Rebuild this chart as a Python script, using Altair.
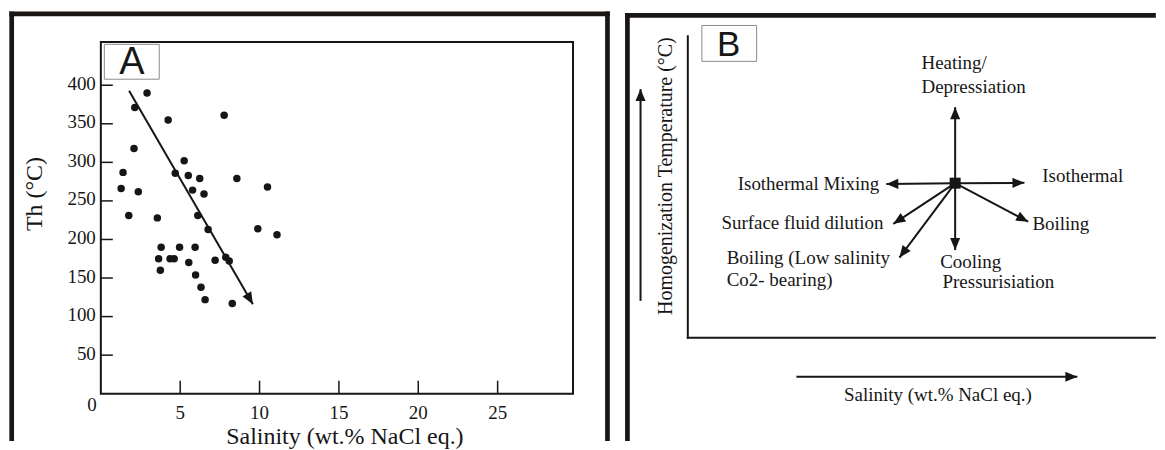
import math
import altair as alt
import pandas as pd

# ---------------- Panel A data ----------------
salinity = [2.91, 2.14, 4.24, 7.77, 2.09, 1.40, 1.28, 2.36, 1.76, 5.25, 4.69, 5.51,
            6.23, 8.57, 5.78, 6.50, 10.5, 3.56, 6.11, 6.76, 9.89, 11.1, 3.80, 4.96,
            5.94, 3.64, 4.36, 4.62, 5.54, 7.20, 7.87, 8.09, 3.75, 5.97, 6.31, 6.57, 8.28]
th = [390, 371, 355, 361, 318, 287, 266, 262, 231, 302, 286, 283,
      279, 279, 264, 259, 268, 228, 231, 213, 214, 206, 190, 190,
      190, 175, 175, 175, 170, 173, 177, 172, 160, 154, 138, 122, 117]
a_x_ticks = [5, 10, 15, 20, 25]
a_y_ticks = [50, 100, 150, 200, 250, 300, 350, 400]
a_trend_x = [1.78, 9.58]
a_trend_y = [393, 116]
a_x_domain = [0, 29.75]
a_y_domain = [0, 463.4]
a_frame_top = 456
a_box_x = [0.22, 3.68]
a_box_y = [407.8, 453]
a_box_label = ("A", 1.95, 430)
a_x_title = "Salinity (wt.% NaCl eq.)"
a_y_title = "Th (°C)"

# ---------------- Panel B data ----------------
b_center = (57.1, 51.3)
b_tip_u = [57.1, 57.1, 42.4, 71.9, 72.7, 43.9, 45.2]
b_tip_v = [76.5, 29.1, 51.0, 51.4, 38.5, 37.8, 26.6]
b_axis_u0 = [-10.1, 23.2]
b_axis_v0 = [12.25, -12.9]
b_axis_u1 = [-10.1, 83.2]
b_axis_v1 = [82.5, -12.9]
b_labels = ["Heating/", "Depressiation", "Isothermal Mixing", "Isothermal",
            "Surface fluid dilution", "Boiling", "Boiling (Low salinity",
            "Co2- bearing)", "Cooling", "Pressurisiation"]
b_label_u = [49.9, 49.9, 40.9, 75.7, 41.8, 73.6, 8.3, 8.3, 53.9, 54.4]
b_label_v = [91.1, 83.1, 51.0, 53.6, 38.1, 37.7, 26.5, 19.2, 25.3, 18.6]
b_label_align = ["left", "left", "right", "left", "right", "left", "left", "left", "left", "left"]
b_box_u = [3.0, 14.7]
b_box_v = [91.7, 103.6]
b_box_label = ("B", 8.7, 97.4)
b_domain = [0, 100]
b_x_title = "Salinity (wt.% NaCl eq.)"
b_y_title = "Homogenization Temperature (°C)"

# ---------------- styling ----------------
AW, AH = 473, 358
BW, BH = 469, 302
serif = "Liberation Serif"
sans = "Liberation Sans"
ink = "#161616"
frame_ink = "#1a1614"
FW = 4.7
ARROW = "M0,0L-0.42,1L0.42,1Z"
ARROW_SIZE = 576

one = pd.DataFrame({"k": [0]})


def heads(x0, y0, x1, y1, kx, ky):
    rows = []
    for a, b, c, d in zip(x0, y0, x1, y1):
        ang = (math.degrees(math.atan2((c - a) * kx, (d - b) * ky)) + 360) % 360
        rows.append({"x": c, "y": d, "ang": ang})
    return pd.DataFrame(rows)


def vrule(x, y0, y1, w=FW, color=frame_ink, cap="square"):
    return alt.Chart(one).mark_rule(color=color, strokeWidth=w, strokeCap=cap).encode(
        x=alt.value(x), y=alt.value(y0), y2=alt.value(y1))


def hrule(y, x0, x1, w=FW, color=frame_ink, cap="square"):
    return alt.Chart(one).mark_rule(color=color, strokeWidth=w, strokeCap=cap).encode(
        y=alt.value(y), x=alt.value(x0), x2=alt.value(x1))


def title_text(txt, x, y, size, angle=0):
    return alt.Chart(pd.DataFrame({"t": [txt]})).mark_text(
        font=serif, fontSize=size, color=ink, align="center", baseline="middle",
        angle=angle).encode(x=alt.value(x), y=alt.value(y), text="t:N")


# ---------------- Panel A ----------------
xA = alt.Scale(domain=a_x_domain, nice=False, zero=False)
yA = alt.Scale(domain=a_y_domain, nice=False, zero=False)

frameA = alt.Chart(pd.DataFrame({"x0": [a_x_domain[0]], "x1": [a_x_domain[1]],
                                 "y0": [0], "y1": [a_frame_top]})).mark_rect(
    fillOpacity=0, stroke=ink, strokeWidth=2).encode(
    x=alt.X("x0:Q", scale=xA, axis=None), x2="x1:Q",
    y=alt.Y("y0:Q", scale=yA, axis=None), y2="y1:Q")

xticksA = alt.Chart(pd.DataFrame({"v": a_x_ticks})).mark_rule(color=ink, strokeWidth=1.5).encode(
    x=alt.X("v:Q", scale=xA, axis=None), y=alt.value(AH), y2=alt.value(AH - 13))
yticksA = alt.Chart(pd.DataFrame({"v": a_y_ticks})).mark_rule(color=ink, strokeWidth=1.5).encode(
    y=alt.Y("v:Q", scale=yA, axis=None), x=alt.value(0), x2=alt.value(12))

xlabA = alt.Chart(pd.DataFrame({"v": a_x_ticks})).mark_text(
    font=serif, fontSize=19, color=ink, align="center", baseline="middle").encode(
    x=alt.X("v:Q", scale=xA, axis=None), y=alt.value(AH + 19), text="v:Q")
ylabA = alt.Chart(pd.DataFrame({"v": a_y_ticks})).mark_text(
    font=serif, fontSize=19, color=ink, align="right", baseline="middle", dy=-1.5).encode(
    y=alt.Y("v:Q", scale=yA, axis=None), x=alt.value(-5), text="v:Q")

ptsA = alt.Chart(pd.DataFrame({"s": salinity, "t": th})).mark_circle(
    size=56, color=ink, opacity=1).encode(
    x=alt.X("s:Q", scale=xA, axis=None), y=alt.Y("t:Q", scale=yA, axis=None))

trendA = alt.Chart(pd.DataFrame({"x0": [a_trend_x[0]], "y0": [a_trend_y[0]],
                                 "x1": [a_trend_x[1]], "y1": [a_trend_y[1]]})).mark_rule(
    color=ink, strokeWidth=2).encode(
    x=alt.X("x0:Q", scale=xA, axis=None), y=alt.Y("y0:Q", scale=yA, axis=None),
    x2="x1:Q", y2="y1:Q")
headA = alt.Chart(heads([a_trend_x[0]], [a_trend_y[0]], [a_trend_x[1]], [a_trend_y[1]],
                        AW / (a_x_domain[1] - a_x_domain[0]),
                        AH / (a_y_domain[1] - a_y_domain[0]))).mark_point(
    shape=ARROW, size=ARROW_SIZE, filled=True, color=ink, opacity=1, strokeWidth=0).encode(
    x=alt.X("x:Q", scale=xA, axis=None), y=alt.Y("y:Q", scale=yA, axis=None),
    angle=alt.Angle("ang:Q", scale=None))

zeroA = alt.Chart(pd.DataFrame({"x": [0], "y": [0], "t": ["0"]})).mark_text(
    font=serif, fontSize=19, color=ink, align="right", baseline="middle", dx=-4, dy=11).encode(
    x=alt.X("x:Q", scale=xA, axis=None), y=alt.Y("y:Q", scale=yA, axis=None), text="t:N")

boxA = alt.Chart(pd.DataFrame({"x0": [a_box_x[0]], "x1": [a_box_x[1]],
                               "y0": [a_box_y[0]], "y1": [a_box_y[1]]})).mark_rect(
    fillOpacity=0, stroke="#8c8c8c", strokeWidth=1).encode(
    x=alt.X("x0:Q", scale=xA, axis=None), x2="x1:Q",
    y=alt.Y("y0:Q", scale=yA, axis=None), y2="y1:Q")
letterA = alt.Chart(pd.DataFrame({"x": [a_box_label[1]], "y": [a_box_label[2]],
                                  "t": [a_box_label[0]]})).mark_text(
    font=sans, fontSize=38, color=ink, align="center", baseline="middle", dy=1).encode(
    x=alt.X("x:Q", scale=xA, axis=None), y=alt.Y("y:Q", scale=yA, axis=None), text="t:N")

panelA = alt.layer(
    frameA, xticksA, yticksA, xlabA, ylabA, ptsA, trendA, headA, zeroA, boxA, letterA,
    title_text(a_x_title, 244.5, 401, 24), title_text(a_y_title, -66, 158, 24, 270),
    vrule(-89.3, -22.5, 403), hrule(-22.5, -89.3, 507.5), vrule(507.5, -22.5, 403),
).properties(width=AW, height=AH)

# ---------------- Panel B ----------------
xB = alt.Scale(domain=b_domain, nice=False, zero=False)
yB = alt.Scale(domain=b_domain, nice=False, zero=False)

centerB = alt.Chart(pd.DataFrame({"u": [b_center[0]], "v": [b_center[1]]})).mark_square(
    size=121, color=ink, opacity=1).encode(
    x=alt.X("u:Q", scale=xB, axis=None), y=alt.Y("v:Q", scale=yB, axis=None))

u0 = [b_center[0]] * len(b_tip_u) + b_axis_u0
v0 = [b_center[1]] * len(b_tip_v) + b_axis_v0
u1 = b_tip_u + b_axis_u1
v1 = b_tip_v + b_axis_v1

shaftsB = alt.Chart(pd.DataFrame({"u0": u0, "v0": v0, "u1": u1, "v1": v1})).mark_rule(
    color=ink, strokeWidth=2).encode(
    x=alt.X("u0:Q", scale=xB, axis=None), y=alt.Y("v0:Q", scale=yB, axis=None),
    x2="u1:Q", y2="v1:Q")
headsB = alt.Chart(heads(u0, v0, u1, v1, BW / (b_domain[1] - b_domain[0]),
                         BH / (b_domain[1] - b_domain[0]))).mark_point(
    shape=ARROW, size=ARROW_SIZE, filled=True, color=ink, opacity=1, strokeWidth=0).encode(
    x=alt.X("x:Q", scale=xB, axis=None), y=alt.Y("y:Q", scale=yB, axis=None),
    angle=alt.Angle("ang:Q", scale=None))

lab_df = pd.DataFrame({"t": b_labels, "u": b_label_u, "v": b_label_v, "al": b_label_align})
textL = alt.Chart(lab_df[lab_df["al"] == "left"]).mark_text(
    font=serif, fontSize=19, color=ink, align="left", baseline="middle").encode(
    x=alt.X("u:Q", scale=xB, axis=None), y=alt.Y("v:Q", scale=yB, axis=None), text="t:N")
textR = alt.Chart(lab_df[lab_df["al"] == "right"]).mark_text(
    font=serif, fontSize=19, color=ink, align="right", baseline="middle").encode(
    x=alt.X("u:Q", scale=xB, axis=None), y=alt.Y("v:Q", scale=yB, axis=None), text="t:N")

boxB = alt.Chart(pd.DataFrame({"x0": [b_box_u[0]], "x1": [b_box_u[1]],
                               "y0": [b_box_v[0]], "y1": [b_box_v[1]]})).mark_rect(
    fillOpacity=0, stroke="#8c8c8c", strokeWidth=1).encode(
    x=alt.X("x0:Q", scale=xB, axis=None), x2="x1:Q",
    y=alt.Y("y0:Q", scale=yB, axis=None), y2="y1:Q")
letterB = alt.Chart(pd.DataFrame({"x": [b_box_label[1]], "y": [b_box_label[2]],
                                  "t": [b_box_label[0]]})).mark_text(
    font=sans, fontSize=35, color=ink, align="center", baseline="middle", dy=1).encode(
    x=alt.X("x:Q", scale=xB, axis=None), y=alt.Y("y:Q", scale=yB, axis=None), text="t:N")

panelB = alt.layer(
    vrule(0, 0, BH, w=2, color=ink), hrule(BH, 0, BW - 1.2, w=2, color=ink),
    centerB, shaftsB, headsB, textL, textR, boxB, letterB,
    title_text(b_x_title, 250.5, BH + 57, 19), title_text(b_y_title, -22, 140, 20, 270),
    vrule(-60.5, -21, 403), hrule(-21, -60.5, BW - 2.5),
).properties(width=BW, height=BH)

chart = alt.hconcat(panelA, panelB, spacing=115, bounds="flush").properties(
    padding={"left": 0, "top": 2, "right": 0, "bottom": 0}
).configure_view(strokeWidth=0)

chart.save("out.html", embed_options={"renderer": "svg", "actions": False})
